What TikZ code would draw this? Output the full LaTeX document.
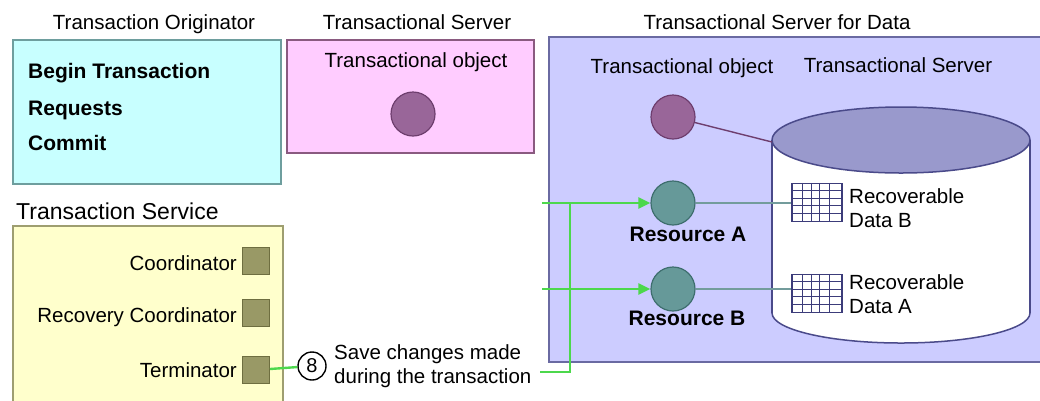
\documentclass[tikz,border=0pt]{standalone}
\usepackage{fontspec}
\setmainfont{Liberation Sans}
\usetikzlibrary{arrows.meta}

\definecolor{origfill}{HTML}{C8FFFF}
\definecolor{origline}{HTML}{6E9E9E}
\definecolor{pinkfill}{HTML}{FFCCFF}
\definecolor{pinkline}{HTML}{8A5A80}
\definecolor{objfill}{HTML}{996699}
\definecolor{objline}{HTML}{6E3E6E}
\definecolor{datafill}{HTML}{CCCCFF}
\definecolor{dataline}{HTML}{6A6AA2}
\definecolor{cyltop}{HTML}{9999CC}
\definecolor{cylline}{HTML}{4A4A8A}
\definecolor{resfill}{HTML}{669999}
\definecolor{resline}{HTML}{3E6E6E}
\definecolor{svcfill}{HTML}{FFFFCC}
\definecolor{svcline}{HTML}{9E9E70}
\definecolor{sqfill}{HTML}{999966}
\definecolor{sqline}{HTML}{6E6E40}
\definecolor{flowgreen}{HTML}{4CD84C}
\definecolor{gridline}{HTML}{3C3C7A}
\definecolor{linkteal}{HTML}{739C9C}

\begin{document}
\begin{tikzpicture}[x=1pt,y=-1pt,
    txt/.style={inner sep=0pt,anchor=base,font=\fontsize{20.5}{24}\selectfont},
    btxt/.style={txt,font=\fontsize{21}{24}\selectfont\bfseries},
    panel/.style={rectangle,line width=1.6pt,inner sep=0pt},
    obj/.style={circle,draw=objline,fill=objfill,line width=1.2pt,minimum size=44pt,inner sep=0pt},
    res/.style={circle,draw=resline,fill=resfill,line width=1.2pt,minimum size=44pt,inner sep=0pt},
    sq/.style={rectangle,draw=sqline,fill=sqfill,line width=1pt,minimum size=27pt,inner sep=0pt},
    grid/.style={rectangle,draw=gridline,fill=white,line width=1.2pt,minimum width=50pt,minimum height=38pt,inner sep=0pt},
    flow/.style={draw=flowgreen,line width=2.4pt},
    cyledge/.style={draw=cylline,line width=1.5pt}]
        \useasboundingbox (0,0) rectangle (1040,400);
        % boxes
        \node[panel,draw=origline,fill=origfill,minimum width=268pt,minimum height=144pt] (orig) at (147,112) {};
        \node[panel,draw=pinkline,fill=pinkfill,minimum width=247pt,minimum height=113pt] (tserv) at (410.5,96.5) {};
        \node[panel,draw=dataline,fill=datafill,minimum width=510pt,minimum height=325pt] (dserv) at (804,199.5) {};
        \node[panel,draw=svcline,fill=svcfill,minimum width=270pt,minimum height=200pt] (tsvc) at (148,326) {};
        % headings
        \node[txt] (origlbl) at (154,29) {Transaction Originator};
        \node[txt] (tservlbl) at (417,29) {Transactional Server};
        \node[txt] (dservlbl) at (777,29) {Transactional Server for Data};
        \node[txt,anchor=base west,font=\fontsize{23}{27}\selectfont] (tsvclbl) at (16,219) {Transaction Service};
        % originator
        \node[btxt,anchor=base west] (begin) at (28,78) {Begin Transaction};
        \node[btxt,anchor=base west] (req) at (28,115) {Requests};
        \node[btxt,anchor=base west] (commit) at (28,150) {Commit};
        % transactional server
        \node[txt] (objlbl) at (416,67) {Transactional object};
        \node[obj] (obj) at (413,114) {};
        % server for data
        \node[txt] (obj2lbl) at (682,73) {Transactional object};
        \node[txt] (srvlbl) at (898,72) {Transactional Server};
        \node[obj] (obj2) at (673,117) {};
        \node[res] (resA) at (673,203) {};
        \node[res] (resB) at (673,289) {};
        \node[btxt] (resAlbl) at (688,241) {Resource A};
        \node[btxt] (resBlbl) at (687,325) {Resource B};
        % database
        \fill[white] (772,140) rectangle (1030,313);
        \begin{scope}
            \clip (760,313) rectangle (1040,350);
            \draw[cyledge,fill=white] (901,313) ellipse [x radius=129,y radius=30];
        \end{scope}
        \draw[cyledge] (772,140) -- (772,313) (1030,140) -- (1030,313);
        \draw[cyledge,fill=cyltop] (901,140) ellipse [x radius=129,y radius=33];
        \coordinate (cyltl) at (772,142);
        \node[grid] (gridB) at (817,202.5) {};
        \node[grid] (gridA) at (817,293.5) {};
        \foreach \g in {gridA,gridB} {
            \foreach \dx in {11,20,28,38}
                \draw[gridline,line width=1pt] ([xshift=\dx pt]\g.north west) -- ([xshift=\dx pt]\g.south west);
            \foreach \dy in {7.6,15.2,22.8,30.4}
                \draw[gridline,line width=1pt] ([yshift=-\dy pt]\g.north west) -- ([yshift=-\dy pt]\g.north east);
        }
        \node[txt,anchor=base west,align=left] (dataBlbl) at (849,227) {Recoverable\\Data B};
        \node[txt,anchor=base west,align=left] (dataAlbl) at (849,313) {Recoverable\\Data A};
        % transaction service
        \node[sq] (coord) at (256,261) {};
        \node[sq] (rcoord) at (256,313) {};
        \node[sq] (term) at (256,370) {};
        \node[txt,anchor=base east] (coordlbl) at (237,270) {Coordinator};
        \node[txt,anchor=base east] (rcoordlbl) at (237,322) {Recovery Coordinator};
        \node[txt,anchor=base east] (termlbl) at (237,377) {Terminator};
        \node[circle,draw,line width=1.4pt,minimum size=28pt,inner sep=0pt,font=\fontsize{20}{22}\selectfont] (eight) at (312,366) {8};
        \node[txt,anchor=base west,align=left] (savelbl) at (334,383) {Save changes made\\during the transaction};
        % links
        \draw[draw=objline,line width=1.4pt] (obj2) -- (cyltl);
        \draw[draw=linkteal,line width=2.4pt] (resA) -- (resA -| gridB.west) (resB) -- (resB -| gridA.west);
        \coordinate (tail) at (540,372);
        \coordinate (bend) at (570,372);
        \coordinate (top) at (570,203);
        \coordinate (feedA) at (542,203);
        \coordinate (feedB) at (542,289);
        \draw[flow] (term) -- (eight);
        \draw[flow] (tail) -- (bend) -- (top);
        \draw[flow,-{Triangle[length=12pt,width=11pt]}] (feedA) -- (resA);
        \draw[flow,-{Triangle[length=12pt,width=11pt]}] (feedB) -- (resB);
    \end{tikzpicture}
\end{document}
